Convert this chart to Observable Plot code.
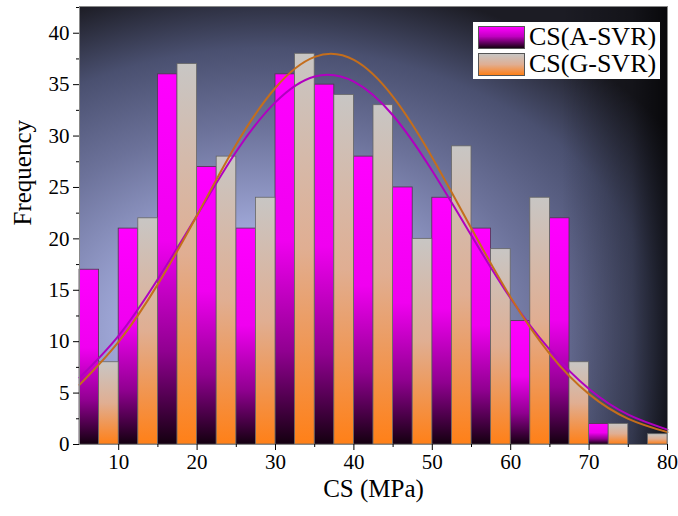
<!DOCTYPE html>
<html>
<head>
<meta charset="utf-8">
<script src="https://cdn.jsdelivr.net/npm/d3@7"></script>
<script src="https://cdn.jsdelivr.net/npm/@observablehq/plot@0.6"></script>
<style>
  html, body { margin: 0; padding: 0; background: #ffffff; }
  #wrap { position: relative; width: 678px; height: 516px; font-family: "Liberation Serif", "Times New Roman", serif; }
  #wrap svg text { font-family: "Liberation Serif", "Times New Roman", serif !important; font-variant: normal !important; }
  .legend { position: absolute; left: 473px; top: 22px; width: 187px; height: 57px; background: #ffffff; }
  .legend .row { position: absolute; left: 5px; height: 24px; display: flex; align-items: center; }
  .legend .sw { width: 47px; height: 23px; border: 1px solid #555; box-sizing: border-box; margin-right: 4px; }
  .legend .lbl { font-size: 26px; color: #000; line-height: 24px; white-space: nowrap; }
</style>
</head>
<body>
<div id="wrap"></div>
<script>
// Bin starts (MPa); each bin 5 MPa wide, split into A-SVR (left half) and G-SVR (right half)
const binStarts = [5, 10, 15, 20, 25, 30, 35, 40, 45, 50, 55, 60, 65, 70, 75];
const freqA = [17, 21, 36, 27, 21, 36, 35, 28, 25, 24, 21, 12, 22, 2, 0];
const freqG = [8, 22, 37, 28, 24, 38, 34, 33, 20, 29, 19, 24, 8, 2, 1];
const seriesNames = ["CS(A-SVR)", "CS(G-SVR)"];

// Fitted distribution curves
const curveX = [5, 10, 15, 20, 25, 30, 35, 40, 45, 50, 55, 60, 65, 70, 75, 80];
const curveA = [6.5, 10.6, 16.1, 22.3, 28.5, 33.3, 35.8, 35.3, 32.0, 26.6, 20.3, 14.2, 9.2, 5.4, 2.9, 1.45];
const curveG = [5.8, 10.0, 15.6, 22.3, 29.2, 34.7, 37.7, 37.4, 33.8, 27.9, 21.0, 14.3, 8.8, 4.9, 2.5, 1.2];

const xTicks = [10, 20, 30, 40, 50, 60, 70, 80];
const xMinor = [15, 25, 35, 45, 55, 65, 75];
const yTicks = [0, 5, 10, 15, 20, 25, 30, 35, 40];
const yMinor = [2.5, 7.5, 12.5, 17.5, 22.5, 27.5, 32.5, 37.5, 42.5];

const barsA = binStarts.map((s, i) => ({x1: s, x2: s + 2.5, y: freqA[i]})).filter(d => d.y > 0);
const barsG = binStarts.map((s, i) => ({x1: s + 2.5, x2: s + 5, y: freqG[i]})).filter(d => d.y > 0);
const lineA = curveX.map((x, i) => ({x, y: curveA[i]}));
const lineG = curveX.map((x, i) => ({x, y: curveG[i]}));

const serif = "Liberation Serif";

const chart = Plot.plot({
  width: 678,
  height: 516,
  marginLeft: 79,
  marginTop: 6,
  marginRight: 11,
  marginBottom: 72,
  style: {fontFamily: serif, fontSize: "21px", color: "#000", background: "#fff"},
  x: {domain: [5, 80]},
  y: {domain: [0, 42.6]},
  marks: [
    Plot.frame({fill: "url(#bgRad)"}),
    Plot.frame({fill: "url(#bgVig)"}),
    Plot.rectY(barsA, {x1: "x1", x2: "x2", y: "y", fill: "url(#gradA)", stroke: "#4a3a4a", strokeWidth: 0.8}),
    Plot.rectY(barsG, {x1: "x1", x2: "x2", y: "y", fill: "url(#gradG)", stroke: "#666", strokeWidth: 0.8}),
    Plot.line(lineA, {x: "x", y: "y", curve: "natural", stroke: "#b000c0", strokeWidth: 2}),
    Plot.line(lineG, {x: "x", y: "y", curve: "natural", stroke: "#c46e1c", strokeWidth: 2}),
    Plot.frame({stroke: "#888", strokeWidth: 1}),
    Plot.axisX(xTicks, {tickSize: 6, tickFormat: () => "", label: null}),
    Plot.axisX(xMinor, {tickSize: 3, tickFormat: () => "", label: null}),
    Plot.axisY(yTicks, {tickSize: 6, tickFormat: () => "", label: null}),
    Plot.axisY(yMinor.filter(v => v < 42.6), {tickSize: 3, tickFormat: () => "", label: null}),
    Plot.text(xTicks, {x: d => d, frameAnchor: "bottom", dy: 24, fontSize: 21, fontFamily: serif, fill: "#000", text: d => String(d)}),
    Plot.text(yTicks, {y: d => d, frameAnchor: "left", dx: -10, textAnchor: "end", fontSize: 21, fontFamily: serif, fill: "#000", text: d => String(d)}),
    Plot.text(["Frequency"], {frameAnchor: "left", dx: -57, rotate: -90, fontSize: 25, fontFamily: serif, fill: "#000"}),
    Plot.text(["CS (MPa)"], {frameAnchor: "bottom", dy: 52, fontSize: 25, fontFamily: serif, fill: "#000"})
  ]
});

const defs = d3.select(chart).insert("defs", ":first-child");
const rad = defs.append("radialGradient").attr("id", "bgRad")
  .attr("cx", 0.33).attr("cy", 0.75).attr("r", 0.82).attr("fx", 0.3).attr("fy", 0.75);
[[0, "#b2baea"], [0.3, "#9ea6d6"], [0.58, "#6c729a"], [0.8, "#4a5070"], [1, "#1c1c24"]]
  .forEach(([o, c]) => rad.append("stop").attr("offset", o).attr("stop-color", c));
const vig = defs.append("linearGradient").attr("id", "bgVig")
  .attr("x1", 0).attr("y1", 0).attr("x2", 1).attr("y2", 0);
[[0, 0], [0.82, 0], [0.94, 0.3], [1, 0.7]]
  .forEach(([o, a]) => vig.append("stop").attr("offset", o).attr("stop-color", "#000").attr("stop-opacity", a));
const gA = defs.append("linearGradient").attr("id", "gradA").attr("x1", 0).attr("y1", 0).attr("x2", 0).attr("y2", 1);
[[0, "#ff00ff"], [0.45, "#f000f0"], [0.75, "#900090"], [1, "#140010"]]
  .forEach(([o, c]) => gA.append("stop").attr("offset", o).attr("stop-color", c));
const gG = defs.append("linearGradient").attr("id", "gradG").attr("x1", 0).attr("y1", 0).attr("x2", 0).attr("y2", 1);
[[0, "#c8c6c4"], [0.5, "#e0ae92"], [1, "#ff8018"]]
  .forEach(([o, c]) => gG.append("stop").attr("offset", o).attr("stop-color", c));

const wrap = document.getElementById("wrap");
wrap.appendChild(chart);

const legend = document.createElement("div");
legend.className = "legend";
const swatchBg = [
  "linear-gradient(to bottom, #ff00ff 0%, #c000c0 45%, #140010 100%)",
  "linear-gradient(to bottom, #c8c6c4 0%, #e0ae92 50%, #ff8018 100%)"
];
seriesNames.forEach((name, i) => {
  const row = document.createElement("div");
  row.className = "row";
  row.style.top = (3 + i * 27) + "px";
  const sw = document.createElement("div");
  sw.className = "sw";
  sw.style.background = swatchBg[i];
  const lbl = document.createElement("span");
  lbl.className = "lbl";
  lbl.textContent = name;
  row.appendChild(sw);
  row.appendChild(lbl);
  legend.appendChild(row);
});
wrap.appendChild(legend);
</script>
</body>
</html>
